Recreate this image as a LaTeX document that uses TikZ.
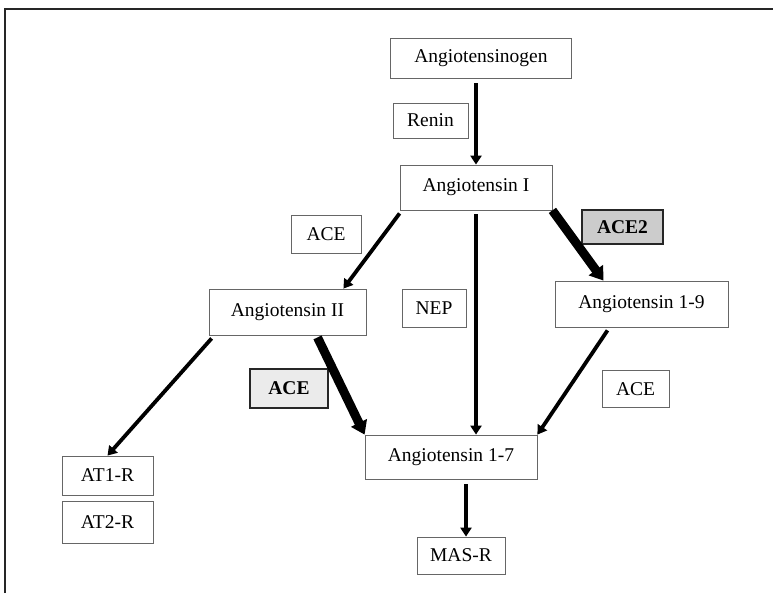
\documentclass[tikz,border=0pt]{standalone}
\usepackage{fontspec}
\setmainfont{Liberation Serif}
\usetikzlibrary{arrows.meta}

\begin{document}
\begin{tikzpicture}[x=1pt, y=-1pt,
    box/.style={draw=black!60, line width=0.8pt, fill=white, inner sep=0pt,
        font=\fontsize{19.5}{22}\selectfont},
    enzbox/.style={box, draw=black!85, line width=1.8pt, font=\fontsize{19.5}{22}\selectfont\bfseries},
    arr/.style={line width=3.8pt, -{Triangle[length=9pt, width=11pt]}},
    bigarr/.style={line width=9pt, -{Triangle[length=13pt, width=17pt]}}]
    \useasboundingbox (0,0) rectangle (773,595);

    % ramecek
    \draw[line width=1.3pt, black!85] (5,593) -- (5,9) -- (773,9);

    % peptidy
    \node[box, minimum width=181, minimum height=40] (agen) at (481,58) {Angiotensinogen};
    \node[box, minimum width=152, minimum height=45] (a1) at (476,187.5) {Angiotensin I};
    \node[box, minimum width=157, minimum height=46] (a2) at (287.5,312) {Angiotensin II};
    \node[box, minimum width=173, minimum height=46] (a19) at (641.5,304) {Angiotensin 1-9};
    \node[box, minimum width=172, minimum height=44] (a17) at (451,457) {Angiotensin 1-7};

    % receptory
    \node[box, minimum width=91, minimum height=39] (at1) at (107.5,475.5) {AT1-R};
    \node[box, minimum width=91, minimum height=42] (at2) at (107.5,522) {AT2-R};
    \node[box, minimum width=88, minimum height=37] (mas) at (461,555.5) {MAS-R};

    % enzymy
    \node[box, minimum width=75, minimum height=35] (renin) at (430.5,120.5) {Renin};
    \node[box, minimum width=70, minimum height=38] (ace1) at (326,234) {ACE};
    \node[box, minimum width=64, minimum height=38] (nep) at (434,308) {NEP};
    \node[box, minimum width=67, minimum height=37] (ace3) at (635.5,389) {ACE};
    \node[enzbox, fill=black!20, minimum width=81, minimum height=34] (ace2) at (622.5,227) {ACE2};
    \node[enzbox, fill=black!8, minimum width=78, minimum height=39] (aceb) at (289,388.5) {ACE};

    % sipky
    \draw[arr] ([yshift=-5pt]a1.north |- agen.south) -- (a1.north);
    \draw[arr] ([yshift=-3pt]a1.south west) -- ([xshift=-23pt]a2.north east);
    \draw[arr] ([yshift=-4pt]a1.south) -- (a1.south |- a17.north);
    \draw[bigarr] (a1.south east) -- ([xshift=-38pt]a19.north);
    \draw[arr] ([xshift=3pt, yshift=-3pt]a2.south west) -- (at1.north);
    \draw[bigarr] ([xshift=30pt, yshift=-2pt]a2.south) -- (a17.north west);
    \draw[arr] ([xshift=-34pt, yshift=-3pt]a19.south) -- (a17.north east);
    \draw[arr] ([yshift=-5pt]mas.north |- a17.south) ++(5,0) -- ([xshift=5pt]mas.north);
\end{tikzpicture}
\end{document}
